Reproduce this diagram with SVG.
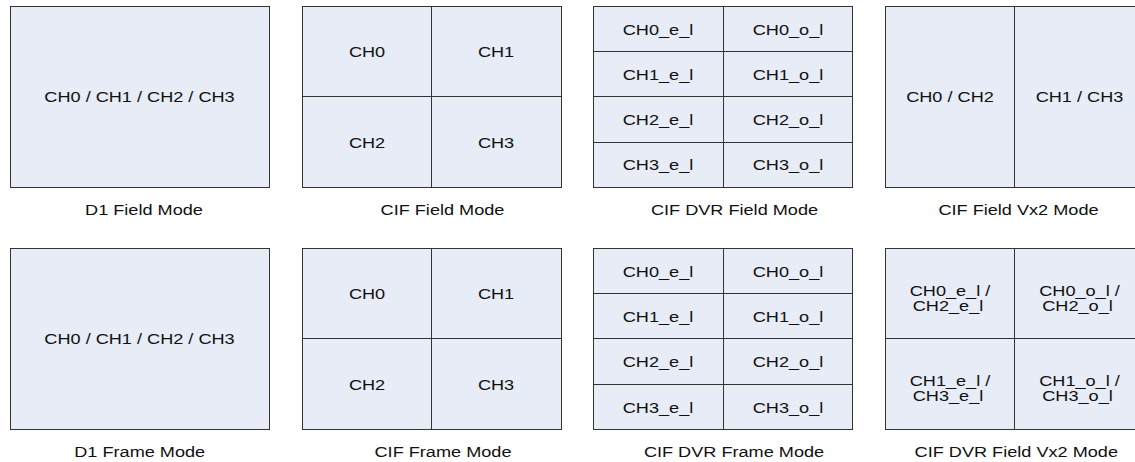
<svg xmlns="http://www.w3.org/2000/svg" width="1135" height="462" viewBox="0 0 1135 462">
<style>
.bg{fill:#ffffff}
.box{fill:#E7ECF6;stroke:#333333;stroke-width:1}
.ln{stroke:#333333;stroke-width:1;fill:none}
text{font-family:"Liberation Sans",Arial,sans-serif;font-size:15px;fill:#111111;text-anchor:middle}
</style>
<rect class="bg" x="0" y="0" width="1135" height="462"/>

<g id="d1-field">
<rect class="box" x="10.5" y="6.5" width="259" height="181"/>
<text transform="translate(139.5 102) scale(1.21 1)">CH0 / CH1 / CH2 / CH3</text>
<text transform="translate(144 215) scale(1.21 1)">D1 Field Mode</text>
</g>

<g id="cif-field">
<rect class="box" x="302.5" y="6.5" width="259" height="181"/>
<path class="ln" d="M431.5 6.5V187.5M302.5 96.5H561.5"/>
<text transform="translate(367 57) scale(1.21 1)">CH0</text>
<text transform="translate(496 57) scale(1.21 1)">CH1</text>
<text transform="translate(367 147.5) scale(1.21 1)">CH2</text>
<text transform="translate(496 147.5) scale(1.21 1)">CH3</text>
<text transform="translate(442.5 215) scale(1.21 1)">CIF Field Mode</text>
</g>

<g id="cif-dvr-field">
<rect class="box" x="593.5" y="6.5" width="259" height="181"/>
<path class="ln" d="M723.5 6.5V187.5M593.5 51.5H852.5M593.5 96.5H852.5M593.5 142.5H852.5"/>
<text transform="translate(658 34.5) scale(1.21 1)">CH0_e_l</text>
<text transform="translate(788 34.5) scale(1.21 1)">CH0_o_l</text>
<text transform="translate(658 79.5) scale(1.21 1)">CH1_e_l</text>
<text transform="translate(788 79.5) scale(1.21 1)">CH1_o_l</text>
<text transform="translate(658 125) scale(1.21 1)">CH2_e_l</text>
<text transform="translate(788 125) scale(1.21 1)">CH2_o_l</text>
<text transform="translate(658 170) scale(1.21 1)">CH3_e_l</text>
<text transform="translate(788 170) scale(1.21 1)">CH3_o_l</text>
<text transform="translate(734.5 215) scale(1.21 1)">CIF DVR Field Mode</text>
</g>

<g id="cif-field-vx2">
<rect class="box" x="885.5" y="6.5" width="259" height="181"/>
<path class="ln" d="M1014.5 6.5V187.5"/>
<text transform="translate(950 102) scale(1.21 1)">CH0 / CH2</text>
<text transform="translate(1079.5 102) scale(1.21 1)">CH1 / CH3</text>
<text transform="translate(1018.5 215) scale(1.21 1)">CIF Field Vx2 Mode</text>
</g>

<g id="d1-frame">
<rect class="box" x="10.5" y="248.5" width="259" height="181"/>
<text transform="translate(139.5 344) scale(1.21 1)">CH0 / CH1 / CH2 / CH3</text>
<text transform="translate(139.7 457) scale(1.21 1)">D1 Frame Mode</text>
</g>

<g id="cif-frame">
<rect class="box" x="302.5" y="248.5" width="259" height="181"/>
<path class="ln" d="M431.5 248.5V429.5M302.5 338.5H561.5"/>
<text transform="translate(367 299) scale(1.21 1)">CH0</text>
<text transform="translate(496 299) scale(1.21 1)">CH1</text>
<text transform="translate(367 389.5) scale(1.21 1)">CH2</text>
<text transform="translate(496 389.5) scale(1.21 1)">CH3</text>
<text transform="translate(443 457) scale(1.21 1)">CIF Frame Mode</text>
</g>

<g id="cif-dvr-frame">
<rect class="box" x="593.5" y="248.5" width="259" height="181"/>
<path class="ln" d="M723.5 248.5V429.5M593.5 293.5H852.5M593.5 338.5H852.5M593.5 384.5H852.5"/>
<text transform="translate(658 276.5) scale(1.21 1)">CH0_e_l</text>
<text transform="translate(788 276.5) scale(1.21 1)">CH0_o_l</text>
<text transform="translate(658 321.5) scale(1.21 1)">CH1_e_l</text>
<text transform="translate(788 321.5) scale(1.21 1)">CH1_o_l</text>
<text transform="translate(658 367) scale(1.21 1)">CH2_e_l</text>
<text transform="translate(788 367) scale(1.21 1)">CH2_o_l</text>
<text transform="translate(658 412.5) scale(1.21 1)">CH3_e_l</text>
<text transform="translate(788 412.5) scale(1.21 1)">CH3_o_l</text>
<text transform="translate(734 457) scale(1.21 1)">CIF DVR Frame Mode</text>
</g>

<g id="cif-dvr-field-vx2">
<rect class="box" x="885.5" y="248.5" width="259" height="181"/>
<path class="ln" d="M1014.5 248.5V429.5M885.5 338.5H1144.5"/>
<text transform="translate(950 295.5) scale(1.21 1)">CH0_e_l /</text>
<text transform="translate(948 310.5) scale(1.21 1)">CH2_e_l</text>
<text transform="translate(1079.5 295.5) scale(1.21 1)">CH0_o_l /</text>
<text transform="translate(1077.5 310.5) scale(1.21 1)">CH2_o_l</text>
<text transform="translate(950 386) scale(1.21 1)">CH1_e_l /</text>
<text transform="translate(948 401) scale(1.21 1)">CH3_e_l</text>
<text transform="translate(1079.5 386) scale(1.21 1)">CH1_o_l /</text>
<text transform="translate(1077.5 401) scale(1.21 1)">CH3_o_l</text>
<text transform="translate(1016.3 457) scale(1.21 1)">CIF DVR Field Vx2 Mode</text>
</g>
</svg>
